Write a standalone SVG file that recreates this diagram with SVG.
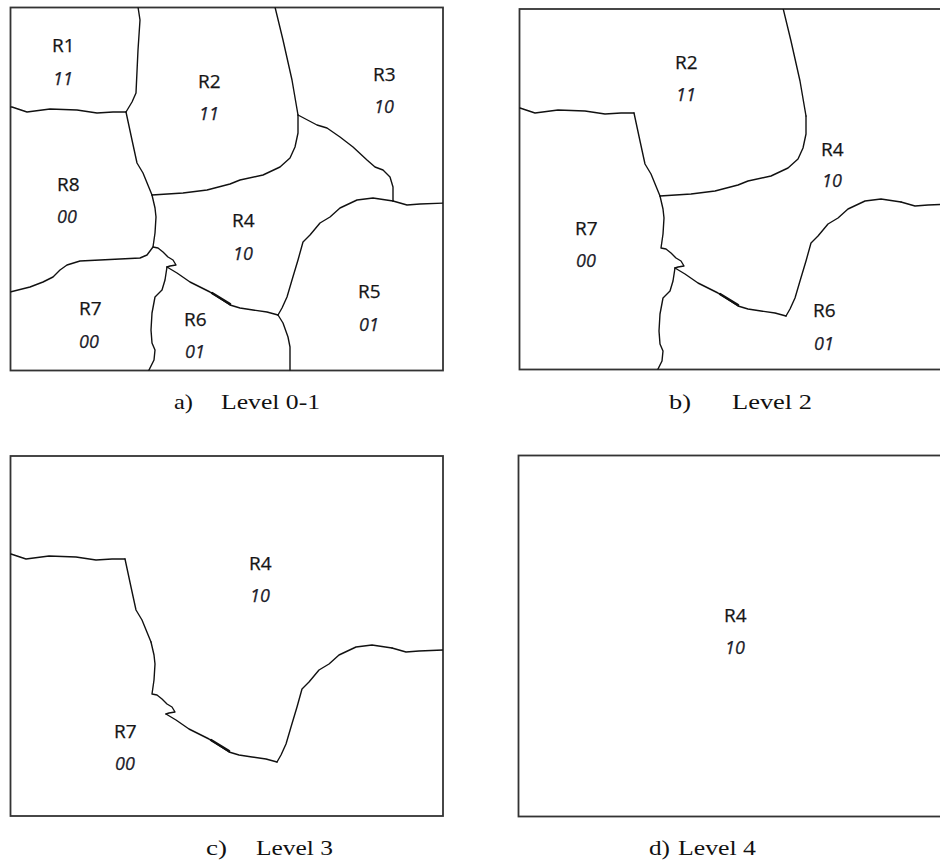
<svg xmlns="http://www.w3.org/2000/svg" xmlns:xlink="http://www.w3.org/1999/xlink" width="940" height="863" viewBox="0 0 940 863">
<style>
.box{fill:#fff;stroke:#333;stroke-width:1.8}
.ln{fill:none;stroke:#111;stroke-width:1.4;stroke-linejoin:round;stroke-linecap:round}
.thk{fill:none;stroke:#111;stroke-width:2.6;stroke-linecap:round}
.lab{font-family:"Open Sans","Liberation Sans",sans-serif;font-size:19px;fill:#151515;stroke:#151515;stroke-width:0.25}
.num{font-family:"Open Sans","Liberation Sans",sans-serif;font-size:18px;font-style:italic;fill:#1c1c2a;stroke:#1c1c2a;stroke-width:0.25}
.cap{font-family:"Liberation Serif","Times New Roman",serif;font-size:21px;fill:#111}
</style>
<defs>
<path id="s1" d="M138,7 L140,20 L138,50 L136,93 L132,102 L126,112"/>
<path id="s2" d="M10,107 L12,107 L27,112 L50,109 L77,110 L97,113 L113,112 L126,112"/>
<path id="s3" d="M126,112 L132,140 L137,163 L143,173 L152,195"/>
<path id="s4" d="M152,195 L183,193 L207,190 L230,184 L240,180 L263,175 L280,167 L290,158 L295,147 L298,133 L298,115"/>
<path id="s5" d="M275,7 L283,40 L292,80 L298,115"/>
<path id="s6" d="M298,115 L317,125 L327,128 L340,137 L353,147 L367,160 L375,167 L383,170 L390,177 L393,187 L393,201"/>
<path id="s7" d="M393,201 L407,205 L420,204 L445,203"/>
<path id="s8" d="M393,201 L373,198 L357,200 L340,208 L330,217 L320,223 L310,235 L303,242 L298,260 L292,280 L287,297 L282,308 L278,315"/>
<path id="s9" d="M278,315 L283,323 L288,337 L290,347 L290,372"/>
<path id="s10" d="M167,267 L177,273 L190,282 L210,292 L230,305 L240,308 L253,310 L267,312 L278,315"/>
<path id="s11" d="M152,195 L155,208 L156,217 L155,233 L153,247 L158,248 L163,252 L168,257 L173,260 L176,265 L170,266 L167,267"/>
<path id="s12" d="M153,247 L147,255 L140,258 L120,259 L100,260 L80,261 L67,265 L60,270 L53,277 L43,282 L30,287 L10,292"/>
<path id="s13" d="M167,267 L165,280 L162,290 L155,297 L152,313 L151,330 L152,343 L155,350 L154,360 L148,372"/>
<path id="tk" d="M212,293 L230,304"/>
<clipPath id="ca"><rect x="10.5" y="7.5" width="432.5" height="363"/></clipPath>
<clipPath id="cb"><rect x="519.5" y="9" width="440" height="360.5"/></clipPath>
<clipPath id="cc"><rect x="10.5" y="456" width="432.5" height="360"/></clipPath>
</defs>

<g id="panel-a">
<rect class="box" x="10.5" y="7.5" width="432.5" height="363"/>
<g id="connectors-a" class="ln" clip-path="url(#ca)">
<use xlink:href="#s1"/><use xlink:href="#s2"/><use xlink:href="#s3"/><use xlink:href="#s4"/>
<use xlink:href="#s5"/><use xlink:href="#s6"/><use xlink:href="#s7"/><use xlink:href="#s8"/>
<use xlink:href="#s9"/><use xlink:href="#s10"/><use xlink:href="#s11"/><use xlink:href="#s12"/>
<use xlink:href="#s13"/><use xlink:href="#tk" class="thk"/>
</g>
<g id="a-R1"><text class="lab" x="52" y="52">R1</text><text class="num" x="53" y="85">11</text></g>
<g id="a-R2"><text class="lab" x="198" y="88">R2</text><text class="num" x="199" y="120">11</text></g>
<g id="a-R3"><text class="lab" x="373" y="81">R3</text><text class="num" x="374" y="113">10</text></g>
<g id="a-R8"><text class="lab" x="57" y="191">R8</text><text class="num" x="57" y="223">00</text></g>
<g id="a-R4"><text class="lab" x="232" y="227">R4</text><text class="num" x="233" y="260">10</text></g>
<g id="a-R7"><text class="lab" x="79" y="315">R7</text><text class="num" x="79" y="348">00</text></g>
<g id="a-R6"><text class="lab" x="184" y="326">R6</text><text class="num" x="185" y="358">01</text></g>
<g id="a-R5"><text class="lab" x="358" y="298">R5</text><text class="num" x="359" y="331">01</text></g>
<g id="cap-a"><text class="cap" x="174" y="409" textLength="19" lengthAdjust="spacingAndGlyphs">a)</text><text class="cap" x="221" y="409" textLength="99" lengthAdjust="spacingAndGlyphs">Level 0-1</text></g>
</g>

<g id="panel-b">
<rect class="box" x="519.5" y="9" width="440" height="360.5"/>
<g id="connectors-b" class="ln" clip-path="url(#cb)">
<g transform="translate(508,1)">
<use xlink:href="#s2"/><use xlink:href="#s3"/><use xlink:href="#s4"/><use xlink:href="#s5"/>
<use xlink:href="#s7"/><use xlink:href="#s8"/><use xlink:href="#s10"/><use xlink:href="#s11"/>
<use xlink:href="#s13"/><use xlink:href="#tk" class="thk"/>
</g>
</g>
<g id="b-R2"><text class="lab" x="675" y="69">R2</text><text class="num" x="676" y="101">11</text></g>
<g id="b-R4"><text class="lab" x="821" y="156">R4</text><text class="num" x="822" y="187">10</text></g>
<g id="b-R7"><text class="lab" x="575" y="235">R7</text><text class="num" x="576" y="267">00</text></g>
<g id="b-R6"><text class="lab" x="813" y="317">R6</text><text class="num" x="814" y="350">01</text></g>
<g id="cap-b"><text class="cap" x="669" y="409" textLength="22" lengthAdjust="spacingAndGlyphs">b)</text><text class="cap" x="732" y="409" textLength="80" lengthAdjust="spacingAndGlyphs">Level 2</text></g>
</g>

<g id="panel-c">
<rect class="box" x="10.5" y="456" width="432.5" height="360"/>
<g id="connectors-c" class="ln" clip-path="url(#cc)">
<g transform="translate(-1,447)">
<use xlink:href="#s2"/><use xlink:href="#s3"/><use xlink:href="#s7"/><use xlink:href="#s8"/>
<use xlink:href="#s10"/><use xlink:href="#s11"/><use xlink:href="#tk" class="thk"/>
</g>
</g>
<g id="c-R4"><text class="lab" x="249" y="570">R4</text><text class="num" x="250" y="602">10</text></g>
<g id="c-R7"><text class="lab" x="114" y="738">R7</text><text class="num" x="115" y="770">00</text></g>
<g id="cap-c"><text class="cap" x="206" y="855" textLength="21" lengthAdjust="spacingAndGlyphs">c)</text><text class="cap" x="256" y="855" textLength="77" lengthAdjust="spacingAndGlyphs">Level 3</text></g>
</g>

<g id="panel-d">
<rect class="box" x="518.5" y="455.5" width="440" height="361"/>
<g id="d-R4"><text class="lab" x="724" y="622">R4</text><text class="num" x="725" y="654">10</text></g>
<g id="cap-d"><text class="cap" x="649" y="855" textLength="21" lengthAdjust="spacingAndGlyphs">d) </text><text class="cap" x="678" y="855" textLength="78" lengthAdjust="spacingAndGlyphs">Level 4</text></g>
</g>
</svg>
